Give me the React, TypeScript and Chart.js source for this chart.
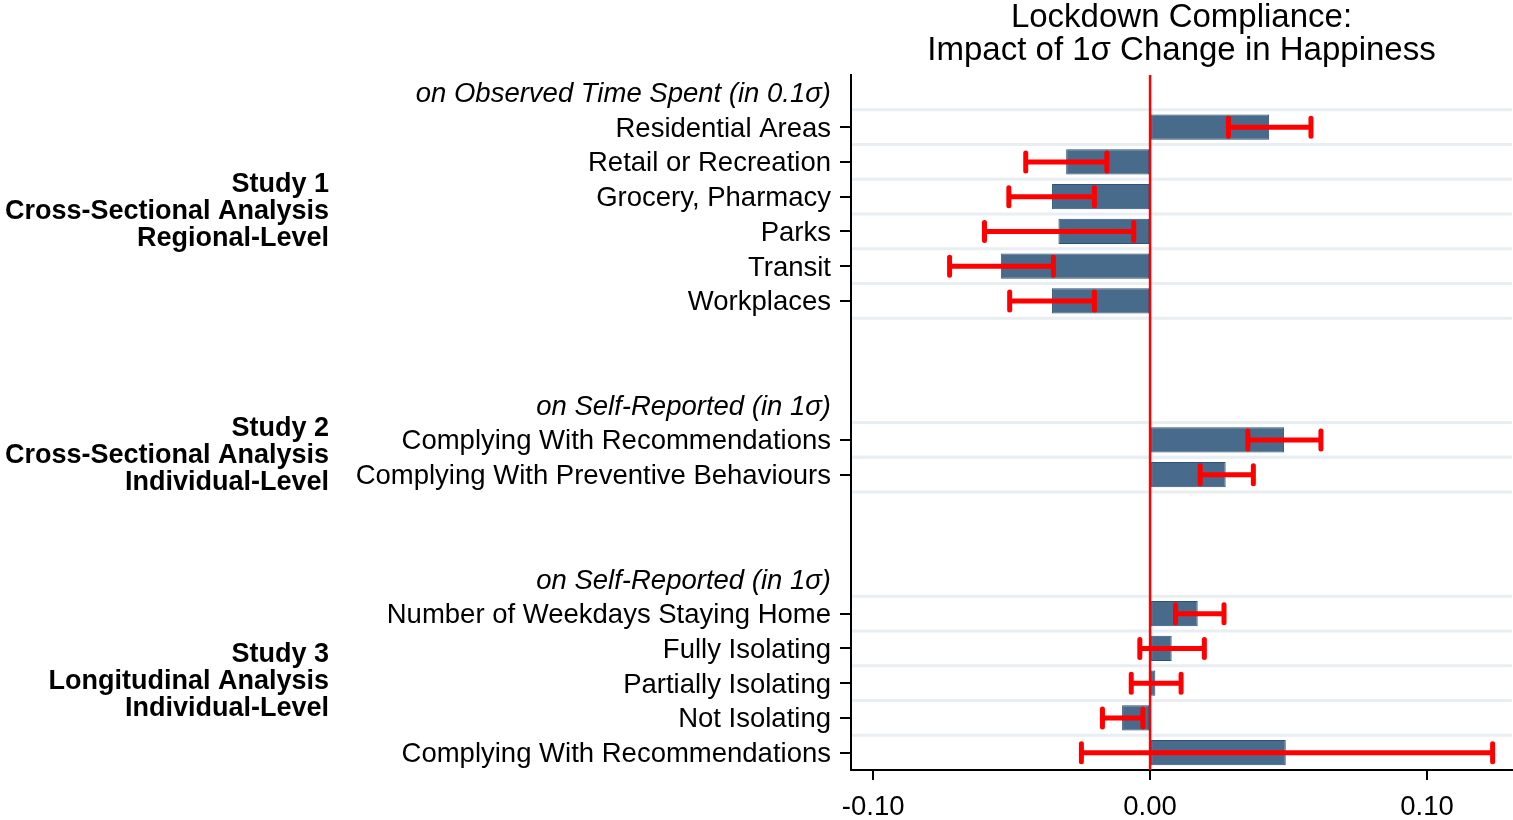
import React, { useEffect, useRef } from "react";
import { Chart, registerables } from "chart.js";

Chart.register(...registerables);

// Row labels (top to bottom). "h" = italic header, "i" = item, "b" = blank spacer
const rowLabels: string[] = [
  "on Observed Time Spent (in 0.1σ)",
  "Residential Areas",
  "Retail or Recreation",
  "Grocery, Pharmacy",
  "Parks",
  "Transit",
  "Workplaces",
  "",
  "",
  "on Self-Reported (in 1σ)",
  "Complying With Recommendations",
  "Complying With Preventive Behaviours",
  "",
  "",
  "on Self-Reported (in 1σ)",
  "Number of Weekdays Staying Home",
  "Fully Isolating",
  "Partially Isolating",
  "Not Isolating",
  "Complying With Recommendations",
];
const rowKinds: string[] = [
  "h", "i", "i", "i", "i", "i", "i", "b", "b",
  "h", "i", "i", "b", "b",
  "h", "i", "i", "i", "i", "i",
];

// Point estimates
const estimates: (number | null)[] = [
  null, 0.043, -0.0303, -0.0354, -0.0331, -0.0539, -0.0354, null, null,
  null, 0.0484, 0.0273, null, null,
  null, 0.0172, 0.0078, 0.0019, -0.0101, 0.049,
];
// Confidence interval bounds
const lowerCI: (number | null)[] = [
  null, 0.0283, -0.0449, -0.051, -0.0598, -0.0724, -0.0507, null, null,
  null, 0.0353, 0.0181, null, null,
  null, 0.0092, -0.0037, -0.0068, -0.0172, -0.0248,
];
const upperCI: (number | null)[] = [
  null, 0.0581, -0.0156, -0.0201, -0.0059, -0.0349, -0.0201, null, null,
  null, 0.0617, 0.0373, null, null,
  null, 0.0267, 0.0196, 0.0112, -0.0026, 0.1237,
];

const xTickValues: number[] = [-0.1, 0, 0.1];
const xMin = -0.108;
const xMax = 0.1307;

const titleLines: string[] = ["Lockdown Compliance:", "Impact of 1σ Change in Happiness"];

const groupTitles: string[][] = [
  ["Study 1", "Cross-Sectional Analysis", "Regional-Level"],
  ["Study 2", "Cross-Sectional Analysis", "Individual-Level"],
  ["Study 3", "Longitudinal Analysis", "Individual-Level"],
];
const groupRows: number[][] = [
  [1, 6],
  [10, 11],
  [15, 19],
];

const FONT = "'Liberation Sans', Arial, sans-serif";

const extrasPlugin = {
  id: "extras",
  beforeDatasetsDraw(chart: any) {
    const { ctx, chartArea, scales } = chart;
    const y = scales.y;
    const step = Math.abs(y.getPixelForValue(1) - y.getPixelForValue(0));
    const ys = new Set<number>();
    rowKinds.forEach((k, i) => {
      if (k === "i") {
        const p = y.getPixelForValue(i);
        ys.add(Math.round((p - step / 2) * 10) / 10);
        ys.add(Math.round((p + step / 2) * 10) / 10);
      }
    });
    ctx.save();
    ctx.strokeStyle = "#E8EEF1";
    ctx.lineWidth = 3;
    ys.forEach((py) => {
      if (py > chartArea.bottom - 2) return;
      ctx.beginPath();
      ctx.moveTo(chartArea.left + 1, py);
      ctx.lineTo(chartArea.right, py);
      ctx.stroke();
    });
    ctx.restore();
  },
  afterDatasetsDraw(chart: any) {
    const { ctx, chartArea, scales } = chart;
    const x = scales.x;
    const y = scales.y;
    ctx.save();
    // zero reference line
    const x0 = x.getPixelForValue(0);
    ctx.strokeStyle = "#FF0000";
    ctx.lineWidth = 2.5;
    ctx.beginPath();
    ctx.moveTo(x0, chartArea.top);
    ctx.lineTo(x0, chartArea.bottom);
    ctx.stroke();
    // error bars
    ctx.lineWidth = 5;
    ctx.lineCap = "round";
    rowKinds.forEach((k, i) => {
      const lo = lowerCI[i];
      const hi = upperCI[i];
      if (lo == null || hi == null) return;
      const py = y.getPixelForValue(i);
      const xl = x.getPixelForValue(lo);
      const xr = x.getPixelForValue(hi);
      ctx.beginPath();
      ctx.moveTo(xl, py);
      ctx.lineTo(xr, py);
      ctx.moveTo(xl, py - 9);
      ctx.lineTo(xl, py + 9);
      ctx.moveTo(xr, py - 9);
      ctx.lineTo(xr, py + 9);
      ctx.stroke();
    });
    ctx.restore();
  },
  afterDraw(chart: any) {
    const { ctx, scales } = chart;
    const y = scales.y;
    ctx.save();
    ctx.font = `bold 27px ${FONT}`;
    ctx.fillStyle = "#000";
    ctx.textAlign = "right";
    ctx.textBaseline = "middle";
    const lh = 27;
    groupTitles.forEach((lines, g) => {
      const [a, b] = groupRows[g];
      const mid = (y.getPixelForValue(a) + y.getPixelForValue(b)) / 2 - 2;
      lines.forEach((t, j) => {
        ctx.fillText(t, 329, mid + (j - (lines.length - 1) / 2) * lh);
      });
    });
    ctx.restore();
  },
};

export default function App() {
  const ref = useRef<HTMLCanvasElement | null>(null);
  useEffect(() => {
    if (!ref.current) return;
    const chart = new Chart(ref.current, {
      type: "bar",
      data: {
        labels: rowLabels,
        datasets: [
          {
            data: estimates as any,
            backgroundColor: "#486A8B",
            borderColor: "#2F5276",
            borderWidth: 1,
            borderSkipped: false,
            categoryPercentage: 1,
            barPercentage: 0.73,
          },
        ],
      },
      options: {
        indexAxis: "y",
        animation: false,
        responsive: true,
        maintainAspectRatio: false,
        layout: { padding: { left: 0, right: 1, top: 0, bottom: 0 } },
        plugins: {
          legend: { display: false },
          tooltip: { enabled: false },
          title: {
            display: true,
            text: titleLines,
            fullSize: false,
            color: "#000",
            font: { family: FONT, size: 33, weight: "normal", lineHeight: 1.0 },
            padding: { top: 1, bottom: 8 },
          },
        },
        scales: {
          x: {
            type: "linear",
            min: xMin,
            max: xMax,
            afterBuildTicks: (scale: any) => {
              scale.ticks = xTickValues.map((v) => ({ value: v }));
            },
            afterFit: (scale: any) => {
              scale.height = 50;
            },
            grid: {
              display: true,
              drawOnChartArea: false,
              drawTicks: true,
              tickLength: 10,
              tickColor: "#000",
              lineWidth: 2,
            },
            border: { display: true, color: "#000", width: 2 },
            ticks: {
              color: "#000",
              padding: 11,
              font: { family: FONT, size: 27.5 },
              callback: (v: any) => Number(v).toFixed(2),
            },
          },
          y: {
            type: "category",
            afterFit: (scale: any) => {
              scale.width = 851;
            },
            grid: {
              display: true,
              offset: false,
              drawOnChartArea: false,
              drawTicks: true,
              tickLength: 11,
              lineWidth: 2,
              tickColor: (c: any) => (rowKinds[c.index] === "i" ? "#000" : "rgba(0,0,0,0)"),
            },
            border: { display: true, color: "#000", width: 2 },
            ticks: {
              autoSkip: false,
              color: "#000",
              padding: 9,
              labelOffset: 2,
              font: (c: any) => ({
                family: FONT,
                size: 27.5,
                style: rowKinds[c.index] === "h" ? "italic" : "normal",
              }),
            },
          },
        },
      },
      plugins: [extrasPlugin],
    });
    return () => chart.destroy();
  }, []);
  return (
    <div style={{ position: "absolute", left: 0, top: 0, width: 1513, height: 820, background: "#fff" }}>
      <canvas ref={ref} />
    </div>
  );
}
